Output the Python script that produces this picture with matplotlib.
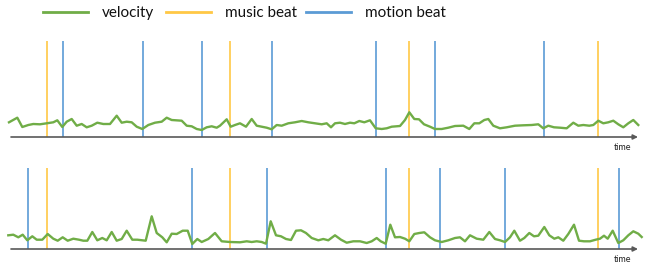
import matplotlib.pyplot as plt
from matplotlib.lines import Line2D

# Data (time in arbitrary units, velocity = height above the time axis)
top_time = [9, 17.3, 22.3, 28.3, 33.3, 40, 46.7, 53.3, 57.3, 62.3, 66.7, 71.7, 76.7, 81.7, 86.7,
            91.7, 97.3, 103.3, 110, 116.7, 121.7, 126.7, 131.7, 136.7, 142.3, 148.3, 155, 161.7,
            166.7, 171.7, 181.7, 186.7, 191.7, 196.7, 201.7, 206.7, 211.7, 216.7,
            220, 226.7, 230.7, 235, 240, 246, 251.7, 256.7, 261.7, 266.7, 271.7, 276.7, 281.7,
            288.3, 295, 301.7, 308.3, 315, 321.7, 326.7, 331, 335, 340, 345, 350, 354.3, 359.3,
            364.3, 370, 375.7, 381.7, 386.7, 391.7, 400, 405, 409.3, 414.3, 419, 424, 430, 435,
            441.7, 448.3, 455, 463.3, 469.3, 474.3, 479.3, 484.3, 488.3, 493.3, 500, 506.7, 515,
            523.3, 531.7, 538.3, 543.3, 548.3, 554, 560, 566.7, 573.3, 578.3, 583.3, 589.3, 593.3,
            598.3, 603.3, 608.3, 613.3, 618.3, 623.3, 628.3, 633.3, 638.3]
top_velocity = [14.7, 19.3, 10, 12, 13, 12.7, 13.7, 14.7, 16.7, 10, 15.3, 18, 11.3, 13, 9.7,
                11.3, 14.3, 13, 13, 21.3, 14.3, 15.3, 14.7, 10.3, 8, 12, 14.3, 15.3,
                19.3, 17, 16.3, 11.3, 10.7, 8, 7, 9.7, 10.7, 9.3,
                11.3, 17.7, 10.3, 12, 13.7, 10.3, 18, 11.3, 10.3, 9.3, 7.7, 12, 11.3,
                13.7, 14.7, 16, 14.7, 13.7, 12.7, 13.7, 9.7, 13.7, 14.3, 13, 14.3, 13.7, 16,
                14.7, 16.7, 8.7, 8, 8.7, 10.3, 11, 17, 24.7, 18, 17.7, 12.7, 10.3, 8,
                8, 9.3, 11, 11.3, 8, 13.7, 13.7, 17, 18, 11.3, 8.7, 9.7, 11.3,
                11.7, 12, 12.7, 8.7, 11.3, 9.7, 9.3, 8.7, 14.3, 11.3, 12, 11.3, 12,
                16.3, 13.7, 14.7, 16.3, 12.7, 9.7, 13.7, 17, 12]
top_music_beats = [47, 230, 408.7, 597.7]
top_motion_beats = [63, 142.7, 202, 271.7, 375.7, 435, 544.3]

bottom_time = [8.3, 13.3, 18.3, 22.7, 27.3, 32.3, 36.7, 42.3, 47.7, 53.3, 57.7, 62.7, 67.7, 73.3,
               79, 83.3, 87.3, 92.3, 97.3, 102.3, 106.7, 111.7, 116.7, 121.7, 126.7, 132.3,
               137.3, 145.7, 151.7, 156.7, 162.3, 166.7, 171.7, 176.7, 182.7, 187.7, 192.3,
               197.3, 201.7, 208.3, 215, 221.7, 230, 240, 246.7, 251.7, 256.7, 261.7, 266,
               270.7, 276, 281, 286, 291, 296, 301, 306, 311.7, 318.3, 323.3, 328.3, 335, 341,
               346.7, 353.3, 360, 366.7, 371.7, 376.7, 380.7, 385.7, 390.3, 395, 400, 405,
               409.3, 414.3, 419.3, 424.3, 430, 435, 441.7, 448.3, 455, 460, 465, 470, 476.7,
               483.3, 489.3, 495, 500, 505, 510, 514.3, 520, 524.3, 529.3, 534, 538.3, 544.3,
               549.3, 554.3, 558.3, 563.3, 568.3, 574, 579, 584, 590, 595.7, 600, 604, 607.7,
               612.7, 618.3, 623.3, 628.3, 633.3, 638.3, 641.7]
bottom_velocity = [13.7, 14.3, 11.7, 14.3, 8.7, 12.7, 9.3, 9.3, 15, 10.3, 8.3, 11.7, 8.3, 10.3,
                   9.3, 8.3, 8.3, 17, 8.7, 11, 8.7, 17, 8.3, 10, 18.3, 9.3,
                   9.3, 8.3, 32.7, 16, 11.7, 6.7, 15.3, 15, 18.3, 18.3, 5,
                   10, 7, 10, 16, 7.7, 7, 6.7, 7.7, 7, 7.7, 7, 5.3,
                   27.7, 13.7, 12.7, 10, 9, 18.3, 18.7, 16, 11, 8.7, 10, 8.7, 13.7, 9.3,
                   6.3, 7.7, 7.7, 6, 7.7, 11, 7.7, 5.3, 24.3, 11.7, 12, 10.3,
                   7.7, 15, 16, 16.7, 11.7, 8.7, 7, 8.7, 11, 11.7, 7.7, 13.7, 10.3,
                   9.3, 17, 10, 8.7, 7, 11.7, 18.3, 8.3, 11, 16, 12.7, 13.3, 22,
                   13.7, 10.3, 11.7, 8.3, 15, 24.3, 8.3, 7.7, 7.7, 9.3, 10.3, 13.3, 10.3,
                   18.3, 6, 8.7, 13.7, 17.7, 15.3, 12]
bottom_music_beats = [46.7, 230.3, 409.3, 598]
bottom_motion_beats = [28.3, 192.3, 266.7, 385.7, 440, 504.7, 619]

legend_labels = ["velocity", "music beat", "motion beat"]

GREEN = "#70AD47"
ORANGE = "#FFC845"
BLUE = "#5B9BD5"
AXIS = "#595959"

W, H = 649, 265
fig = plt.figure(figsize=(W / 100, H / 100), dpi=100)

panels = [
    (top_time, top_velocity, top_music_beats, top_motion_beats, 137, 41),
    (bottom_time, bottom_velocity, bottom_music_beats, bottom_motion_beats, 249, 167.5),
]

for t, v, music, motion, y_axis, y_top in panels:
    ax = fig.add_axes([0, (H - y_axis) / H, 1, (y_axis - y_top) / H])
    ax.set_xlim(0, W)
    ax.set_ylim(0, y_axis - y_top)
    ax.axis("off")
    for x in music:
        ax.axvline(x, color=ORANGE, lw=1.2, zorder=1)
    for x in motion:
        ax.axvline(x, color=BLUE, lw=1.2, zorder=1)
    ax.plot(t, v, color=GREEN, lw=1.7, zorder=3)
    # time axis with arrow
    ax.annotate("", xy=(638, 0), xytext=(11, 0), xycoords="data",
                arrowprops=dict(arrowstyle="-|>", color=AXIS, lw=1.2,
                                mutation_scale=7, shrinkA=0, shrinkB=0),
                annotation_clip=False, zorder=4)
    ax.text(623, -10, "time", fontsize=6.5, family="Lato", color="#222222",
            ha="center", va="center", clip_on=False)

# Legend, placed by hand along the top
legend_colors = [GREEN, ORANGE, BLUE]
legend_x = [43, 166, 306]
for x0, color, label in zip(legend_x, legend_colors, legend_labels):
    y = 1 - 12 / H
    fig.add_artist(Line2D([x0 / W, (x0 + 45) / W], [y, y], color=color, lw=2,
                          transform=fig.transFigure))
    fig.text((x0 + 59) / W, 1 - 13 / H, label, fontsize=11, family="Lato",
             color="#111111", ha="left", va="center")

fig.savefig("out.png", dpi=100)
